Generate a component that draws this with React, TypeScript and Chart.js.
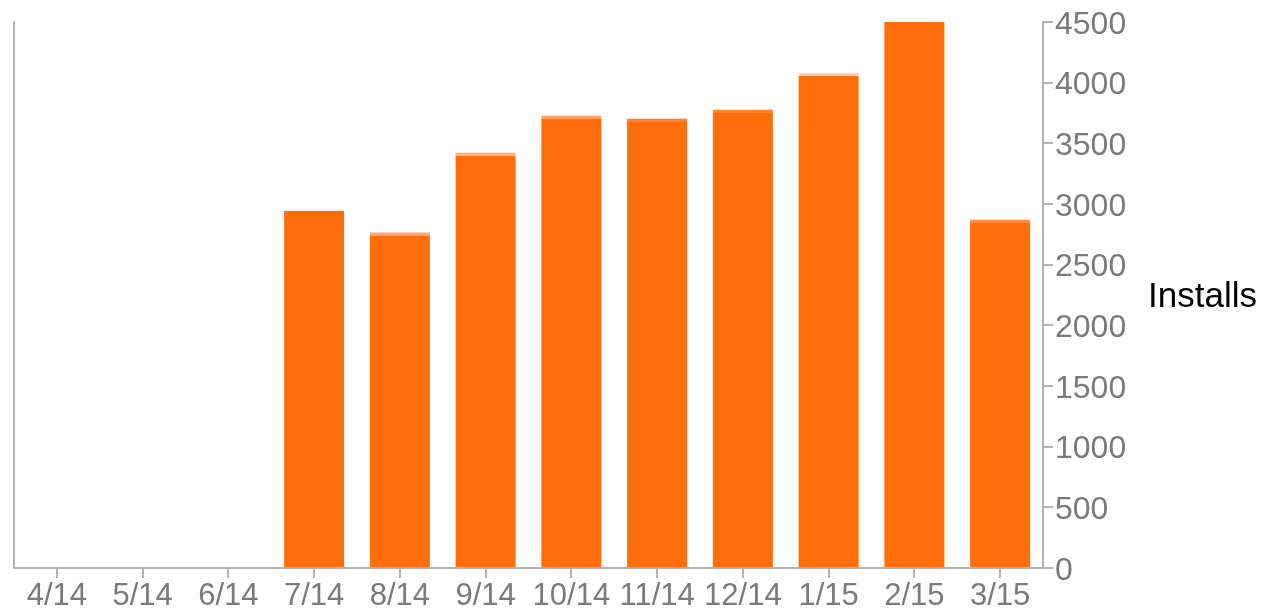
import React, { useEffect, useRef } from "react";
import { Chart, registerables } from "chart.js";

Chart.register(...registerables);

const categories = ["4/14", "5/14", "6/14", "7/14", "8/14", "9/14", "10/14", "11/14", "12/14", "1/15", "2/15", "3/15"];
const mainInstalls = [0, 0, 0, 2942, 2736, 3396, 3700, 3676, 3750, 4055, 4500, 2844];
const extraInstalls = [0, 0, 0, 22, 30, 27, 27, 26, 27, 27, 0, 27];
const yTicks = [0, 500, 1000, 1500, 2000, 2500, 3000, 3500, 4000, 4500];
const axisTitle = "Installs";

const MAIN_COLOR = "#FF6E0B";
const EXTRA_COLORS = ["#FFF3EA", "#FFF3EA", "#FFF3EA", "#FFF3EA", "#FFA970", "#FFB27F", "#FFA060", "#FF7F2A", "#FF8436", "#FDD5BC", "#FF8C40", "#FF8C40"];
const AXIS_COLOR = "#B3B3B3";
const TICK_COLOR = "#7A7A7A";
const FONT = '"Liberation Sans", Arial, sans-serif';

export default function App() {
  const ref = useRef<HTMLCanvasElement | null>(null);

  useEffect(() => {
    if (!ref.current) return;
    const titlePlugin = {
      id: "rightTitle",
      afterDraw(chart: any) {
        const { ctx, chartArea } = chart;
        ctx.save();
        ctx.font = `35px ${FONT}`;
        ctx.fillStyle = "#000";
        ctx.textAlign = "left";
        ctx.textBaseline = "middle";
        ctx.fillText(axisTitle, chartArea.right + 105, (chartArea.top + chartArea.bottom) / 2 + 2);
        ctx.restore();
      },
    };
    const chart = new Chart(ref.current, {
      type: "bar",
      data: {
        labels: categories,
        datasets: [
          { label: "Installs", data: mainInstalls, backgroundColor: MAIN_COLOR, yAxisID: "y", barPercentage: 0.7, categoryPercentage: 1 },
          { label: "Other", data: extraInstalls, backgroundColor: EXTRA_COLORS, yAxisID: "y", barPercentage: 0.7, categoryPercentage: 1 },
        ],
      },
      options: {
        animation: false,
        responsive: false,
        maintainAspectRatio: false,
        layout: { padding: { top: 22, left: 0, right: 0, bottom: 0 } },
        plugins: { legend: { display: false }, tooltip: { enabled: false } },
        scales: {
          x: {
            stacked: true,
            grid: { display: true, drawOnChartArea: false, drawTicks: true, tickLength: 10, offset: false, color: AXIS_COLOR, lineWidth: 2 },
            border: { display: true, color: AXIS_COLOR, width: 2 },
            ticks: { color: TICK_COLOR, font: { size: 31, family: FONT }, padding: 0, maxRotation: 0, autoSkip: false },
            afterFit(scale: any) { scale.height = 47; },
          },
          y: {
            stacked: true,
            position: "right",
            min: 0,
            max: 4500,
            afterBuildTicks(scale: any) { scale.ticks = yTicks.map((v) => ({ value: v })); },
            grid: { display: true, drawOnChartArea: false, drawTicks: true, tickLength: 10, color: AXIS_COLOR, lineWidth: 2 },
            border: { display: true, color: AXIS_COLOR, width: 2 },
            ticks: { color: TICK_COLOR, font: { size: 32, family: FONT }, padding: 2, labelOffset: 3, callback: (v: any) => String(v) },
            afterFit(scale: any) { scale.width = 225; },
          },
          yl: {
            position: "left",
            grid: { display: false },
            border: { display: true, color: AXIS_COLOR, width: 2 },
            ticks: { display: false },
            afterFit(scale: any) { scale.width = 14; },
          },
        },
      },
      plugins: [titlePlugin],
    });
    return () => chart.destroy();
  }, []);

  return (
    <div style={{ position: "absolute", left: 0, top: 0, width: 1268, height: 615, background: "#fff" }}>
      <canvas ref={ref} width={1268} height={615} style={{ display: "block", width: 1268, height: 615 }} />
    </div>
  );
}
